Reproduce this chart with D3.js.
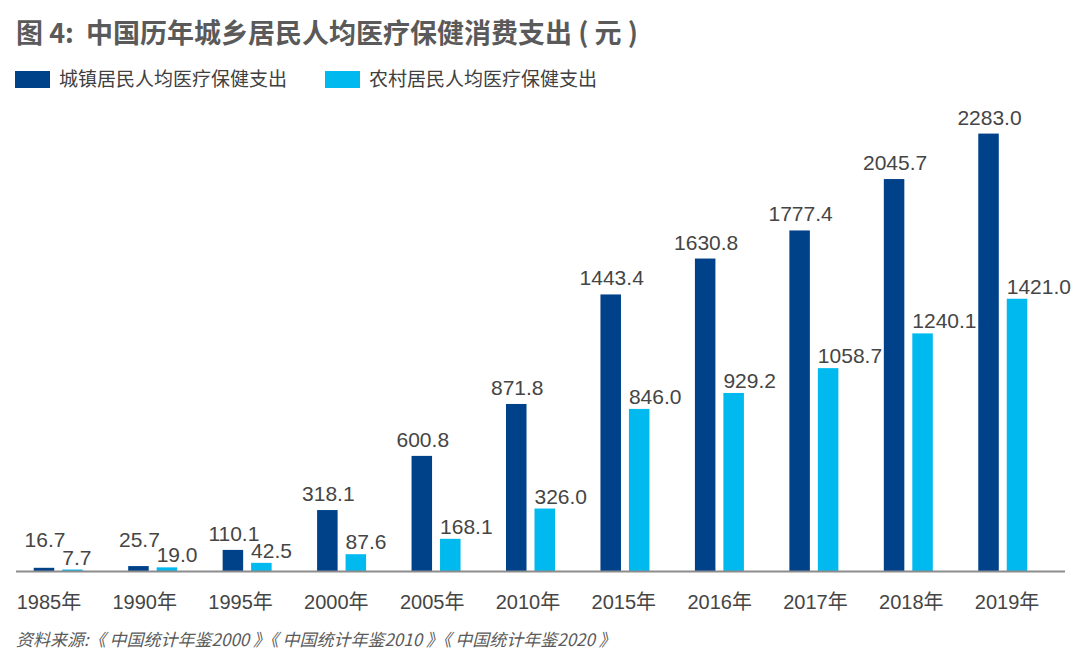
<!DOCTYPE html>
<html>
<head>
<meta charset="utf-8">
<script src="https://cdn.jsdelivr.net/npm/d3@7"></script>
<style>
  body { margin: 0; background: #fff; }
  svg { display: block; }
</style>
</head>
<body>
<svg></svg>
<script>
var years = ["1985年","1990年","1995年","2000年","2005年","2010年","2015年","2016年","2017年","2018年","2019年"];
var urban = [16.7, 25.7, 110.1, 318.1, 600.8, 871.8, 1443.4, 1630.8, 1777.4, 2045.7, 2283.0];
var rural = [7.7, 19.0, 42.5, 87.6, 168.1, 326.0, 846.0, 929.2, 1058.7, 1240.1, 1421.0];
var seriesNames = ["城镇居民人均医疗保健支出", "农村居民人均医疗保健支出"];
var colors = ["#00428a", "#00b9ef"];

var screen = { width: 1080, height: 662 };
var svg = d3.select("svg")
            .attr("width", screen.width)
            .attr("height", screen.height);

var cjk = "'Noto Sans CJK SC', 'Liberation Sans', sans-serif";
var num = "'Liberation Sans', 'Noto Sans CJK SC', sans-serif";

// title
svg.append("text")
   .attr("x", 16)
   .attr("y", 43)
   .attr("font-family", cjk)
   .attr("font-weight", "bold")
   .attr("font-size", 27)
   .attr("fill", "#5a5a5a")
   .attr("xml:space", "preserve")
   .style("white-space", "pre")
   .text("图 4:  中国历年城乡居民人均医疗保健消费支出 ( 元 )");

// legend
var legendX = [15, 325];
seriesNames.forEach(function(name, i) {
  svg.append("rect")
     .attr("x", legendX[i]).attr("y", 71)
     .attr("width", 35).attr("height", 17)
     .attr("fill", colors[i]);
  svg.append("text")
     .attr("x", legendX[i] + 44).attr("y", 86)
     .attr("font-family", cjk)
     .attr("font-size", 19)
     .attr("fill", "#404040")
     .text(name);
});

var baseY = 571;

var xScale = d3.scaleBand()
               .domain(years)
               .range([11, 1050]);

// tick labels sit on a slightly wider spacing than the bars
var labelScale = d3.scaleBand()
                   .domain(years)
                   .range([1, 1055]);

var inner = d3.scaleBand()
              .domain([0, 1])
              .range([0, 49])
              .paddingInner(0.28);

var yScale = d3.scaleLinear()
               .domain([0, 2400])
               .range([baseY, baseY - 2400 * 0.1916]);

var barX = function(i, s) {
  return xScale(years[i]) + xScale.bandwidth() / 2 - 24.5 + inner(s);
};

var plot = svg.append("g");

[urban, rural].forEach(function(vals, s) {
  var g = plot.append("g");
  g.selectAll("rect")
   .data(vals)
   .enter()
   .append("rect")
   .attr("x", function(d, i) { return barX(i, s); })
   .attr("width", inner.bandwidth())
   .attr("y", function(d) { return yScale(d); })
   .attr("height", function(d) { return baseY - yScale(d); })
   .attr("fill", colors[s]);

  // urban labels centred over the bar (lifted for the tiny ones), rural labels start at the bar's left edge
  g.selectAll("text")
   .data(vals)
   .enter()
   .append("text")
   .attr("x", function(d, i) { return s === 0 ? barX(i, s) + inner.bandwidth() / 2 + 1 : barX(i, s); })
   .attr("y", function(d) { return s === 0 ? Math.min(yScale(d) - 9, baseY - 24) : yScale(d) - 5; })
   .attr("text-anchor", s === 0 ? "middle" : "start")
   .attr("font-family", num)
   .attr("font-size", 21)
   .attr("fill", "#454545")
   .text(function(d) { return d.toFixed(1); });
});

// baseline
svg.append("line")
   .attr("x1", 16).attr("x2", 1065)
   .attr("y1", baseY + 0.5).attr("y2", baseY + 0.5)
   .attr("stroke", "#8c8c8c")
   .attr("stroke-width", 2);

var xAxis = d3.axisBottom(labelScale).tickSize(0).tickPadding(0);
var ax = svg.append("g")
   .attr("transform", "translate(0," + (baseY + 20) + ")")
   .call(xAxis);
ax.select(".domain").remove();
ax.selectAll("text")
  .attr("dy", "0.9em")
  .attr("font-family", num)
  .attr("font-size", 20)
  .attr("fill", "#454545");

// source
svg.append("text")
   .attr("x", 16)
   .attr("y", 646)
   .attr("font-family", cjk)
   .attr("font-style", "italic")
   .attr("font-size", 17)
   .attr("fill", "#5a5a5a")
   .text("资料来源:《 中国统计年鉴2000 》《 中国统计年鉴2010 》《 中国统计年鉴2020 》");
</script>
</body>
</html>
